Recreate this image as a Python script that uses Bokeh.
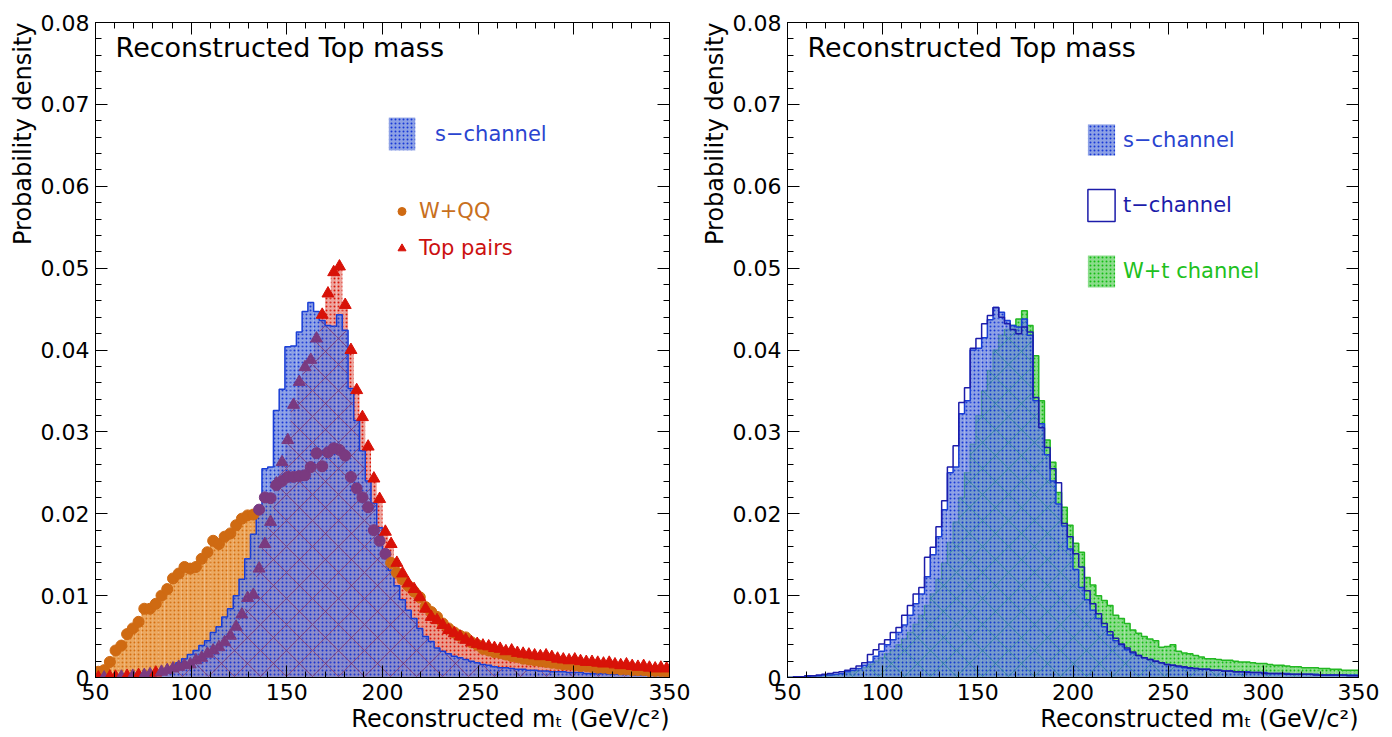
import numpy as np
from bokeh.plotting import figure
from bokeh.layouts import row
from bokeh.models import (ColumnDataSource, FixedTicker, LinearAxis, Range1d, Title,
                          Label, Legend, LegendItem, CustomJSTickFormatter)
from bokeh.embed import file_html
from bokeh.resources import INLINE

# Histogram binning: 100 bins of 3 GeV between 50 and 350 GeV/c^2
x_lo, x_hi, n_bins = 50, 350, 100

# Normalised bin contents (each histogram sums to ~1)
s_channel = [
    0.0000, 0.0001, 0.0001, 0.0001, 0.0002, 0.0002, 0.0003, 0.0003, 0.0004, 0.0005,
    0.0006, 0.0008, 0.0010, 0.0013, 0.0018, 0.0023, 0.0028, 0.0033, 0.0039, 0.0045,
    0.0055, 0.0062, 0.0074, 0.0084, 0.0100, 0.0120, 0.0145, 0.0175, 0.0210, 0.0255,
    0.0257, 0.0326, 0.0352, 0.0404, 0.0405, 0.0422, 0.0447, 0.0458, 0.0447, 0.0436,
    0.0430, 0.0429, 0.0443, 0.0424, 0.0353, 0.0314, 0.0277, 0.0240, 0.0213, 0.0183,
    0.0155, 0.0131, 0.0112, 0.0095, 0.0082, 0.0072, 0.0060, 0.0050, 0.0044, 0.0036,
    0.0032, 0.0029, 0.0026, 0.0024, 0.0022, 0.0020, 0.0018, 0.0016, 0.0015, 0.0013,
    0.0012, 0.0012, 0.0011, 0.0010, 0.0010, 0.0009, 0.0009, 0.0008, 0.0008, 0.0007,
    0.0007, 0.0007, 0.0006, 0.0006, 0.0006, 0.0005, 0.0005, 0.0005, 0.0005, 0.0004,
    0.0004, 0.0004, 0.0004, 0.0004, 0.0003, 0.0003, 0.0003, 0.0003, 0.0003, 0.0003,
]

w_qq = [
    0.0007, 0.0009, 0.0019, 0.0033, 0.0039, 0.0053, 0.0060, 0.0068, 0.0084, 0.0084,
    0.0090, 0.0100, 0.0108, 0.0121, 0.0127, 0.0135, 0.0133, 0.0135, 0.0145, 0.0153,
    0.0167, 0.0163, 0.0172, 0.0176, 0.0186, 0.0194, 0.0198, 0.0199, 0.0205, 0.0220,
    0.0219, 0.0235, 0.0240, 0.0245, 0.0245, 0.0246, 0.0247, 0.0257, 0.0274, 0.0258,
    0.0275, 0.0280, 0.0278, 0.0271, 0.0245, 0.0231, 0.0220, 0.0208, 0.0180, 0.0167,
    0.0151, 0.0140, 0.0128, 0.0120, 0.0112, 0.0105, 0.0098, 0.0086, 0.0080, 0.0074,
    0.0066, 0.0060, 0.0055, 0.0051, 0.0049, 0.0043, 0.0040, 0.0035, 0.0033, 0.0031,
    0.0030, 0.0028, 0.0026, 0.0025, 0.0023, 0.0022, 0.0021, 0.0020, 0.0019, 0.0018,
    0.0017, 0.0016, 0.0016, 0.0015, 0.0014, 0.0014, 0.0013, 0.0012, 0.0012, 0.0011,
    0.0011, 0.0010, 0.0010, 0.0009, 0.0009, 0.0009, 0.0008, 0.0008, 0.0008, 0.0007,
]

top_pairs = [
    0.0000, 0.0000, 0.0001, 0.0001, 0.0001, 0.0002, 0.0002, 0.0003, 0.0003, 0.0004,
    0.0006, 0.0007, 0.0009, 0.0011, 0.0013, 0.0015, 0.0016, 0.0021, 0.0024, 0.0029,
    0.0033, 0.0037, 0.0043, 0.0051, 0.0062, 0.0077, 0.0097, 0.0101, 0.0133, 0.0163,
    0.0190, 0.0237, 0.0263, 0.0290, 0.0333, 0.0361, 0.0379, 0.0388, 0.0414, 0.0443,
    0.0469, 0.0495, 0.0502, 0.0455, 0.0400, 0.0351, 0.0318, 0.0282, 0.0243, 0.0218,
    0.0178, 0.0163, 0.0140, 0.0127, 0.0115, 0.0108, 0.0098, 0.0084, 0.0074, 0.0070,
    0.0064, 0.0058, 0.0054, 0.0050, 0.0046, 0.0043, 0.0041, 0.0039, 0.0038, 0.0036,
    0.0035, 0.0032, 0.0033, 0.0030, 0.0029, 0.0028, 0.0027, 0.0026, 0.0027, 0.0025,
    0.0023, 0.0022, 0.0021, 0.0022, 0.0020, 0.0019, 0.0019, 0.0018, 0.0017, 0.0018,
    0.0016, 0.0015, 0.0016, 0.0014, 0.0013, 0.0014, 0.0012, 0.0011, 0.0012, 0.0011,
]

# s-channel as filled in the right-hand panel
s_channel_r = [
    0.0000, 0.0000, 0.0001, 0.0001, 0.0002, 0.0002, 0.0003, 0.0003, 0.0004, 0.0005,
    0.0007, 0.0009, 0.0011, 0.0015, 0.0019, 0.0026, 0.0032, 0.0040, 0.0046, 0.0055,
    0.0064, 0.0076, 0.0090, 0.0102, 0.0123, 0.0150, 0.0172, 0.0205, 0.0250, 0.0257,
    0.0322, 0.0338, 0.0400, 0.0402, 0.0415, 0.0437, 0.0452, 0.0446, 0.0436, 0.0430,
    0.0428, 0.0438, 0.0418, 0.0338, 0.0310, 0.0272, 0.0240, 0.0212, 0.0185, 0.0157,
    0.0132, 0.0110, 0.0095, 0.0082, 0.0072, 0.0062, 0.0052, 0.0045, 0.0040, 0.0034,
    0.0030, 0.0027, 0.0024, 0.0022, 0.0020, 0.0018, 0.0016, 0.0015, 0.0013, 0.0012,
    0.0011, 0.0011, 0.0010, 0.0010, 0.0009, 0.0009, 0.0008, 0.0008, 0.0007, 0.0007,
    0.0007, 0.0006, 0.0006, 0.0006, 0.0005, 0.0005, 0.0005, 0.0005, 0.0004, 0.0004,
    0.0004, 0.0004, 0.0004, 0.0003, 0.0003, 0.0003, 0.0003, 0.0003, 0.0003, 0.0003,
]

t_channel = [
    0.0000, 0.0001, 0.0001, 0.0002, 0.0002, 0.0003, 0.0004, 0.0005, 0.0006, 0.0007,
    0.0009, 0.0011, 0.0014, 0.0018, 0.0028, 0.0034, 0.0041, 0.0046, 0.0055, 0.0061,
    0.0076, 0.0088, 0.0102, 0.0110, 0.0147, 0.0159, 0.0184, 0.0216, 0.0257, 0.0283,
    0.0336, 0.0354, 0.0402, 0.0414, 0.0432, 0.0442, 0.0452, 0.0440, 0.0432, 0.0425,
    0.0420, 0.0428, 0.0422, 0.0342, 0.0305, 0.0281, 0.0255, 0.0238, 0.0188, 0.0172,
    0.0151, 0.0135, 0.0106, 0.0090, 0.0078, 0.0066, 0.0056, 0.0048, 0.0041, 0.0036,
    0.0031, 0.0027, 0.0024, 0.0022, 0.0020, 0.0018, 0.0016, 0.0015, 0.0014, 0.0013,
    0.0012, 0.0011, 0.0010, 0.0010, 0.0009, 0.0009, 0.0008, 0.0008, 0.0007, 0.0007,
    0.0006, 0.0006, 0.0006, 0.0005, 0.0005, 0.0005, 0.0005, 0.0004, 0.0004, 0.0004,
    0.0004, 0.0004, 0.0003, 0.0003, 0.0003, 0.0003, 0.0003, 0.0003, 0.0002, 0.0002,
]

wt_channel = [
    0.0000, 0.0000, 0.0001, 0.0001, 0.0001, 0.0002, 0.0002, 0.0003, 0.0003, 0.0004,
    0.0005, 0.0007, 0.0009, 0.0012, 0.0016, 0.0020, 0.0024, 0.0029, 0.0034, 0.0040,
    0.0047, 0.0055, 0.0065, 0.0076, 0.0088, 0.0102, 0.0120, 0.0140, 0.0165, 0.0190,
    0.0220, 0.0250, 0.0285, 0.0320, 0.0350, 0.0375, 0.0400, 0.0418, 0.0425, 0.0430,
    0.0438, 0.0448, 0.0430, 0.0393, 0.0338, 0.0290, 0.0263, 0.0226, 0.0208, 0.0186,
    0.0164, 0.0153, 0.0122, 0.0113, 0.0100, 0.0094, 0.0088, 0.0076, 0.0072, 0.0066,
    0.0058, 0.0054, 0.0050, 0.0047, 0.0045, 0.0037, 0.0038, 0.0040, 0.0032, 0.0030,
    0.0029, 0.0027, 0.0025, 0.0023, 0.0023, 0.0022, 0.0021, 0.0021, 0.0020, 0.0019,
    0.0019, 0.0018, 0.0017, 0.0017, 0.0016, 0.0015, 0.0015, 0.0014, 0.0013, 0.0013,
    0.0012, 0.0012, 0.0012, 0.0011, 0.0011, 0.0010, 0.0010, 0.0009, 0.0009, 0.0009,
]

x_major = [50, 100, 150, 200, 250, 300, 350]
y_major = [0.0, 0.01, 0.02, 0.03, 0.04, 0.05, 0.06, 0.07, 0.08]

FONT = "DejaVu Sans"
edges = np.linspace(x_lo, x_hi, n_bins + 1)
centers = 0.5 * (edges[:-1] + edges[1:])


def hist_source(values):
    return ColumnDataSource(dict(left=edges[:-1], right=edges[1:], top=np.asarray(values)))


def step_path(values):
    v = np.asarray(values)
    xs = np.concatenate([[edges[0]], np.repeat(edges, 2)[1:-1], [edges[-1]]])
    ys = np.concatenate([[0.0], np.repeat(v, 2), [0.0]])
    return xs, ys


def style_axis(ax, labels=True):
    ax.axis_line_color = "black"
    ax.major_tick_line_color = "black"
    ax.minor_tick_line_color = "black"
    ax.major_tick_in = 12
    ax.major_tick_out = 0
    ax.minor_tick_in = 6
    ax.minor_tick_out = 0
    if labels:
        ax.major_label_text_font = FONT
        ax.major_label_text_font_size = "22px"
        ax.major_label_text_color = "black"
        ax.major_label_standoff = 6
    else:
        # tick marks only on the opposite sides of the frame
        ax.major_label_text_font_size = "1px"
        ax.major_label_text_color = None
        ax.major_label_standoff = 0


def make_panel(border_left, border_right):
    p = figure(width=696, height=737, x_range=Range1d(x_lo, x_hi), y_range=Range1d(0, 0.08),
               output_backend="svg", toolbar_location=None,
               min_border_left=border_left, min_border_right=border_right,
               min_border_top=22, min_border_bottom=60)
    p.grid.visible = False
    p.outline_line_color = "black"
    p.background_fill_color = "white"
    p.border_fill_color = "white"

    xt = FixedTicker(ticks=x_major, minor_ticks=list(range(x_lo, x_hi + 1, 10)))
    yt = FixedTicker(ticks=y_major, minor_ticks=[round(0.002 * k, 3) for k in range(41)])
    p.xaxis.ticker = xt
    p.yaxis.ticker = yt
    p.yaxis.formatter = CustomJSTickFormatter(code="return tick == 0 ? '0' : tick.toFixed(2);")
    style_axis(p.xaxis[0])
    style_axis(p.yaxis[0])
    top_ax = LinearAxis(ticker=xt)
    right_ax = LinearAxis(ticker=yt)
    style_axis(top_ax, labels=False)
    style_axis(right_ax, labels=False)
    p.add_layout(top_ax, "above")
    p.add_layout(right_ax, "right")

    p.add_layout(Title(text="Reconstructed m\u209c (GeV/c\u00b2)", align="right", text_font=FONT,
                       text_font_size="24px", text_font_style="normal", text_color="black",
                       standoff=0), "below")
    p.add_layout(Title(text="Probability density", align="right", text_font=FONT,
                       text_font_size="24px", text_font_style="normal", text_color="black",
                       standoff=2), "left")
    p.add_layout(Label(x=60.5, y=0.0789, text="Reconstructed Top mass", text_baseline="top",
                       text_font=FONT, text_font_size="27px", text_color="black"))
    return p


def legend(items, loc, color, glyph_w, glyph_h, standoff):
    return Legend(items=items, location=loc, glyph_width=glyph_w, glyph_height=glyph_h,
                  label_standoff=standoff, label_text_color=color, label_text_font=FONT,
                  label_text_font_size="21px", border_line_alpha=0, background_fill_alpha=0,
                  padding=0, margin=0, spacing=0, label_height=glyph_h)


def overlap_lines(p, a, b, color):
    """Sparse criss-cross lines where histogram a lies underneath histogram b."""
    top = np.minimum(np.asarray(a), np.asarray(b))
    p.quad(left="left", right="right", bottom=0, top="top", source=hist_source(top),
           fill_alpha=0, line_color=None, hatch_pattern="diagonal_cross",
           hatch_color=color, hatch_scale=26, hatch_weight=1.0, hatch_alpha=0.55)


BLUE_FILL = dict(fill_color="#7189de", fill_alpha=0.8, hatch_pattern="dot",
                 hatch_color="#1234d6", hatch_scale=4, hatch_weight=2.0, hatch_alpha=0.95)
INSIDE = "#7a3a80"   # markers seen through the s-channel fill

# ---------------- left panel: s-channel vs backgrounds ----------------
left = make_panel(95, 27)
left.quad(left="left", right="right", bottom=0, top="top", source=hist_source(w_qq),
          fill_color="#eaa050", fill_alpha=0.9, line_color=None, hatch_pattern="dot",
          hatch_color="#d46e10", hatch_scale=4, hatch_weight=2.0)
left.quad(left="left", right="right", bottom=0, top="top", source=hist_source(top_pairs),
          fill_color="#ec9a92", fill_alpha=0.9, line_color=None, hatch_pattern="dot",
          hatch_color="#d81408", hatch_scale=4, hatch_weight=2.0)
r_s = left.quad(left="left", right="right", bottom=0, top="top", source=hist_source(s_channel),
                line_color=None, **BLUE_FILL)
overlap_lines(left, top_pairs, s_channel, "#8a1f48")
xs, ys = step_path(s_channel)
left.line(xs, ys, line_color="#1a3fd6", line_width=1.5)

s_arr = np.asarray(s_channel)
wqq_col = ["#cf6a12" if v >= s else INSIDE for v, s in zip(w_qq, s_arr)]
top_col = ["#d81208" if v >= s else INSIDE for v, s in zip(top_pairs, s_arr)]
m_wqq = left.scatter(x=centers, y=w_qq, marker="circle", size=11, color=wqq_col)
m_top = left.scatter(x=centers, y=top_pairs, marker="triangle", size=12, color=top_col)

left.add_layout(legend([LegendItem(label="s\u2212channel", renderers=[r_s])], (290, 523),
                       "#2a44d0", 33, 41, 17))
left.add_layout(legend([LegendItem(label="W+QQ", renderers=[m_wqq], index=0)], (293, 454),
                       "#c8701e", 27, 20, 4))
left.add_layout(legend([LegendItem(label="Top pairs", renderers=[m_top], index=99)], (293, 417),
                       "#cc1010", 27, 20, 4))

# ---------------- right panel: single-top channels ----------------
right = make_panel(91, 34)
r_wt = right.quad(left="left", right="right", bottom=0, top="top", source=hist_source(wt_channel),
                  fill_color="#7ed87e", fill_alpha=0.9, line_color=None, hatch_pattern="dot",
                  hatch_color="#14bc14", hatch_scale=4, hatch_weight=2.0)
xs, ys = step_path(wt_channel)
right.line(xs, ys, line_color="#22b822", line_width=1.5)
r_s2 = right.quad(left="left", right="right", bottom=0, top="top", source=hist_source(s_channel_r),
                  line_color=None, **BLUE_FILL)
overlap_lines(right, wt_channel, s_channel_r, "#1f8a8a")
xs, ys = step_path(s_channel_r)
right.line(xs, ys, line_color="#1a3fd6", line_width=1.5)
xs, ys = step_path(t_channel)
right.line(xs, ys, line_color="#1c1caa", line_width=1.5)
# outline-only box used as the t-channel legend key (NaN: nothing drawn in the frame)
r_t_key = right.quad(left=[np.nan], right=[np.nan], bottom=[np.nan], top=[np.nan],
                     fill_alpha=0, line_color="#1c1caa", line_width=1.5)

right.add_layout(legend([LegendItem(label="s\u2212channel", renderers=[r_s2])], (297, 518),
                        "#2a44d0", 34, 39, 5))
right.add_layout(legend([LegendItem(label="t\u2212channel", renderers=[r_t_key])], (297, 452),
                        "#1c1caa", 34, 40, 5))
right.add_layout(legend([LegendItem(label="W+t channel", renderers=[r_wt])], (297, 386),
                        "#20c020", 34, 40, 5))

layout = row(left, right)
open("out.html", "w").write(file_html(layout, INLINE))
